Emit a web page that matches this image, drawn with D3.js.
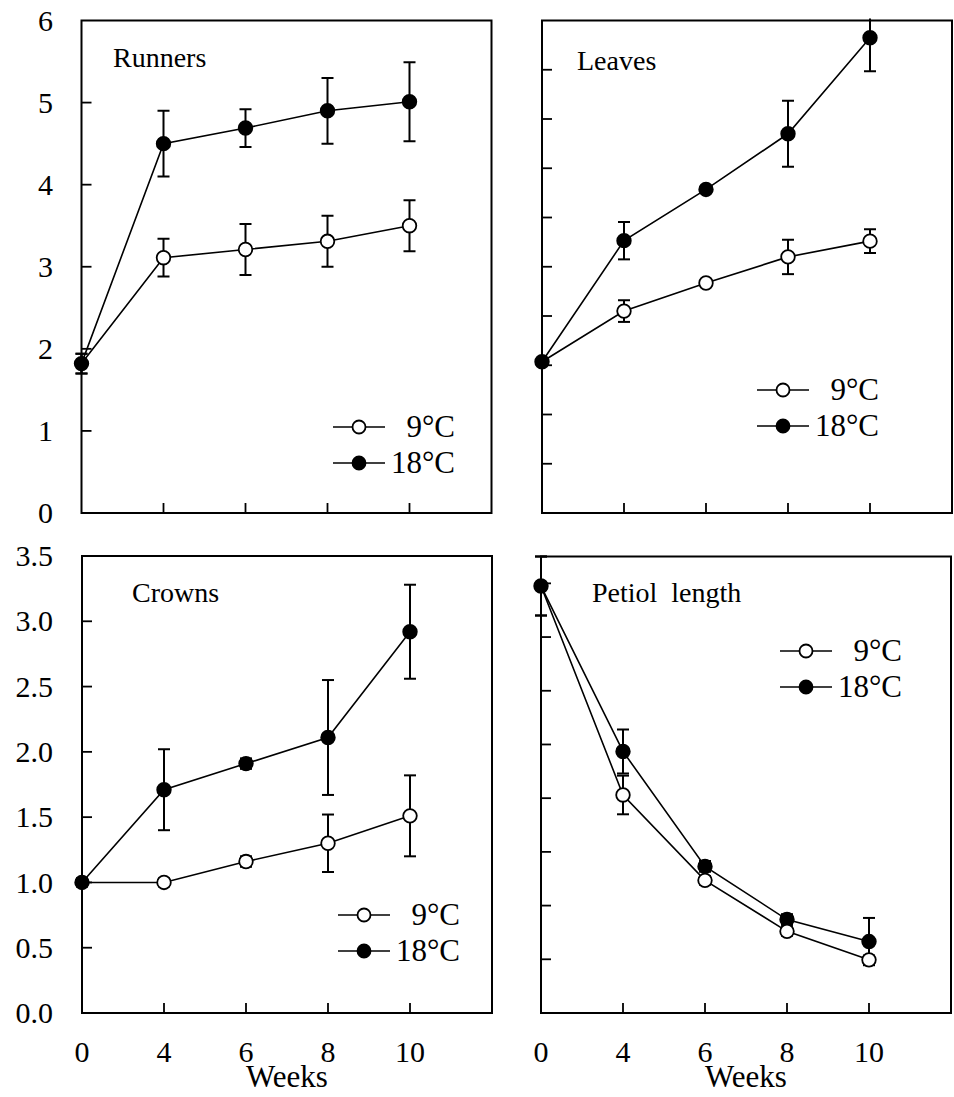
<!DOCTYPE html>
<html>
<head>
<meta charset="utf-8">
<script src="https://cdn.jsdelivr.net/npm/d3@7/dist/d3.min.js"></script>
<style>
  body { margin: 0; background: #fff; }
</style>
</head>
<body>
<div id="main"></div>
<script>
// data
var weeks = ["0", "4", "6", "8", "10"];
var seriesNames = ["9\u00b0C", "18\u00b0C"];

var runners9 = [1.82, 3.11, 3.21, 3.31, 3.50];
var runners9Err = [0.12, 0.23, 0.31, 0.31, 0.31];
var runners18 = [1.82, 4.50, 4.69, 4.90, 5.01];
var runners18Err = [0.12, 0.40, 0.23, 0.40, 0.48];

var leaves9 = [3.07, 4.10, 4.67, 5.20, 5.52];
var leaves9Err = [0.05, 0.22, 0.05, 0.35, 0.24];
var leaves18 = [3.07, 5.53, 6.57, 7.70, 9.65];
var leaves18Err = [0.05, 0.38, 0.05, 0.67, 0.68];

var crowns9 = [1.00, 1.00, 1.16, 1.30, 1.51];
var crowns9Err = [0.03, 0.03, 0.04, 0.22, 0.31];
var crowns18 = [1.00, 1.71, 1.91, 2.11, 2.92];
var crowns18Err = [0.03, 0.31, 0.04, 0.44, 0.36];

var petiol9 = [7.95, 4.06, 2.47, 1.52, 0.99];
var petiol9Err = [0.55, 0.36, 0.08, 0.08, 0.08];
var petiol18 = [7.95, 4.87, 2.73, 1.74, 1.33];
var petiol18Err = [0.55, 0.41, 0.10, 0.10, 0.44];

var runnersTicks = ["0", "1", "2", "3", "4", "5", "6"];
var crownsTicks = ["0.0", "0.5", "1.0", "1.5", "2.0", "2.5", "3.0", "3.5"];

var FONT = "'Liberation Serif', 'Times New Roman', Times, 'DejaVu Serif', serif";

var svg = d3.select("#main").append("svg")
    .attr("width", 954)
    .attr("height", 1097)
    .attr("font-family", FONT)
    .style("font-family", FONT);

var panels = [
  {title: "Runners", x0: 81.5, y0: 20.5, h: 492.5, max: 6, ticks: runnersTicks, labels: true, xlabels: false,
   s9: runners9, e9: runners9Err, s18: runners18, e18: runners18Err,
   titlePos: [113, 67], legend: [333, 427]},
  {title: "Leaves", x0: 542, y0: 20.5, h: 492.5, max: 10, ticks: d3.range(0, 11), labels: false, xlabels: false,
   s9: leaves9, e9: leaves9Err, s18: leaves18, e18: leaves18Err,
   titlePos: [577, 70], legend: [757, 390]},
  {title: "Crowns", x0: 82, y0: 556, h: 457, max: 3.5, ticks: crownsTicks, labels: true, xlabels: true,
   s9: crowns9, e9: crowns9Err, s18: crowns18, e18: crowns18Err,
   titlePos: [132, 602], legend: [338, 915]},
  {title: "Petiol  length", x0: 541, y0: 556.5, h: 456.5, max: 8.5, ticks: d3.range(0, 9), labels: false, xlabels: true,
   s9: petiol9, e9: petiol9Err, s18: petiol18, e18: petiol18Err,
   titlePos: [592, 602], legend: [780, 651]}
];

var width = 410;

panels.forEach(function(p, pi) {
  var g = svg.append("g").attr("transform", "translate(" + p.x0 + "," + p.y0 + ")");

  var x = d3.scaleLinear().domain([0, 5]).range([0, width]);
  var y = d3.scaleLinear().domain([0, p.max]).range([p.h, 0]);

  g.append("clipPath").attr("id", "clip" + pi)
    .append("rect").attr("x", -30).attr("y", -2).attr("width", width + 60).attr("height", p.h + 40);

  // frame
  g.append("rect")
      .attr("width", width).attr("height", p.h)
      .attr("fill", "none").attr("stroke", "#000").attr("stroke-width", 2);

  // y ticks (inward)
  var yvals = p.ticks.map(function(t) { return +t; });
  g.selectAll(null).data(yvals.filter(function(v) { return v > 0 && v < p.max; }))
    .enter().append("line")
      .attr("x1", 0).attr("x2", 10)
      .attr("y1", function(d) { return y(d); }).attr("y2", function(d) { return y(d); })
      .attr("stroke", "#000").attr("stroke-width", 1.8);

  if (p.labels) {
    g.selectAll(null).data(p.ticks)
      .enter().append("text")
        .attr("x", 53 - p.x0)
        .attr("y", function(d) { return y(+d); })
        .attr("dy", "0.34em")
        .attr("text-anchor", "end")
        .style("font-size", "30px")
        .text(function(d) { return d; });
  }

  // x ticks (inward)
  g.selectAll(null).data(d3.range(1, 5))
    .enter().append("line")
      .attr("x1", function(d) { return x(d); }).attr("x2", function(d) { return x(d); })
      .attr("y1", p.h).attr("y2", p.h - 10)
      .attr("stroke", "#000").attr("stroke-width", 1.8);

  if (p.xlabels) {
    g.selectAll(null).data(weeks)
      .enter().append("text")
        .attr("x", function(d, i) { return x(i); })
        .attr("y", p.h + 49)
        .attr("text-anchor", "middle")
        .style("font-size", "30px")
        .text(function(d) { return d; });
    g.append("text")
        .attr("x", (x(2) + x(3)) / 2)
        .attr("y", p.h + 74)
        .attr("text-anchor", "middle")
        .style("font-size", "31px")
        .text("Weeks");
  }

  // title
  svg.append("text")
      .attr("x", p.titlePos[0]).attr("y", p.titlePos[1])
      .style("font-size", "28px")
      .style("white-space", "pre")
      .text(p.title);

  var plot = g.append("g").attr("clip-path", "url(#clip" + pi + ")");
  var line = d3.line().x(function(d) { return x(d.i); }).y(function(d) { return y(d.v); });

  var series = [
    {vals: p.s18, err: p.e18, fill: "#000"},
    {vals: p.s9, err: p.e9, fill: "#fff"}
  ];

  series.forEach(function(s) {
    s.pts = s.vals.map(function(v, i) { return {i: i, v: v, e: s.err[i]}; });
    var sg = plot.append("g");
    sg.append("path").datum(s.pts)
        .attr("d", line)
        .attr("fill", "none").attr("stroke", "#000").attr("stroke-width", 1.6);

    var bars = sg.selectAll(null).data(s.pts)
      .enter().append("g");
    bars.append("line")
        .attr("x1", function(d) { return x(d.i); }).attr("x2", function(d) { return x(d.i); })
        .attr("y1", function(d) { return y(d.v + d.e); })
        .attr("y2", function(d) { return y(d.v - d.e); })
        .attr("stroke", "#000").attr("stroke-width", 2);
    [1, -1].forEach(function(sign) {
      bars.append("line")
          .attr("x1", function(d) { return x(d.i) - 6; }).attr("x2", function(d) { return x(d.i) + 6; })
          .attr("y1", function(d) { return y(d.v + sign * d.e); })
          .attr("y2", function(d) { return y(d.v + sign * d.e); })
          .attr("stroke", "#000").attr("stroke-width", 2);
    });
  });

  series.forEach(function(s) {
    // the shared week-0 point is drawn once, filled
    var pts = s.pts.filter(function(d) { return !(s.fill === "#fff" && d.i === 0); });
    plot.selectAll(null).data(pts)
      .enter().append("circle")
        .attr("cx", function(d) { return x(d.i); })
        .attr("cy", function(d) { return y(d.v); })
        .attr("r", 6.8)
        .attr("fill", s.fill).attr("stroke", "#000").attr("stroke-width", 1.8);
  });

  // legend
  var lx = p.legend[0], ly = p.legend[1];
  var leg = svg.append("g");
  [{name: seriesNames[0], fill: "#fff", dy: 0}, {name: seriesNames[1], fill: "#000", dy: 36}].forEach(function(l) {
    leg.append("line")
        .attr("x1", lx).attr("x2", lx + 52)
        .attr("y1", ly + l.dy).attr("y2", ly + l.dy)
        .attr("stroke", "#000").attr("stroke-width", 1.6);
    leg.append("circle")
        .attr("cx", lx + 26).attr("cy", ly + l.dy).attr("r", 6.5)
        .attr("fill", l.fill).attr("stroke", "#000").attr("stroke-width", 1.8);
    leg.append("text")
        .attr("x", lx + 122).attr("y", ly + l.dy + 10)
        .attr("text-anchor", "end")
        .style("font-size", "31px")
        .text(l.name);
  });
});
</script>
</body>
</html>
